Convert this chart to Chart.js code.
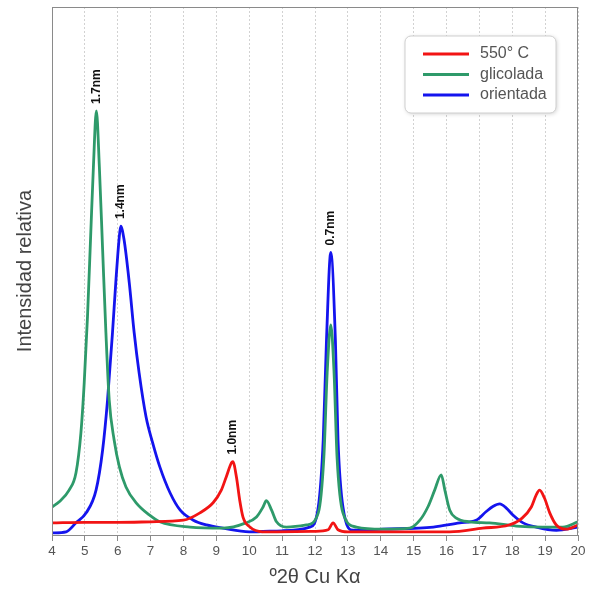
<!DOCTYPE html>
<html>
<head>
<meta charset="utf-8">
<script src="https://cdn.jsdelivr.net/npm/chart.js@4/dist/chart.umd.min.js"></script>
<style>
  html, body { margin: 0; padding: 0; background: #fff; }
  #wrap { width: 594px; height: 591px; position: relative; }
</style>
</head>
<body>
<div id="wrap"><canvas id="xrd"></canvas></div>
<script>
// x: º2θ, y: relative intensity (0 = baseline, 100 = top of plot)
const redX = [4.0, 5.0, 6.0, 7.0, 8.0, 8.5, 8.9, 9.15, 9.3, 9.46, 9.5, 9.61, 9.71, 9.81, 10.02, 10.4, 12.0, 12.4, 12.55, 12.7, 13.0, 16.1, 17.1, 17.9, 18.3, 18.58, 18.73, 18.83, 18.98, 19.14, 19.34, 19.64, 20.0];
const redY = [2.3, 2.4, 2.4, 2.5, 2.8, 4.2, 6.1, 8.5, 11, 13.7, 13.9, 11, 6.6, 3.4, 1.5, 0.6, 0.7, 1.0, 2.3, 1.0, 0.6, 0.6, 1.3, 1.9, 3.2, 5.3, 7.6, 8.5, 7.0, 4.2, 1.9, 1.1, 1.9];

const greenX = [4.0, 4.22, 4.52, 4.73, 4.88, 4.98, 5.08, 5.18, 5.26, 5.35, 5.44, 5.54, 5.64, 5.74, 5.89, 6.05, 6.25, 6.56, 6.96, 7.28, 8.2, 9.2, 9.9, 10.22, 10.42, 10.52, 10.68, 10.83, 11.13, 11.74, 12.1, 12.27, 12.37, 12.48, 12.58, 12.67, 12.85, 13.26, 14.06, 14.88, 15.19, 15.44, 15.64, 15.84, 15.95, 16.1, 16.3, 16.7, 17.31, 18.12, 18.93, 19.54, 20.0];
const greenY = [5.3, 6.3, 8.5, 11.8, 19.4, 28.8, 41.4, 57.3, 69.8, 80.3, 69.8, 54, 38.3, 25.6, 18, 12.9, 9.1, 6.1, 3.8, 2.5, 1.5, 1.3, 2.3, 3.4, 5.3, 6.5, 4.7, 2.5, 1.5, 1.9, 4.2, 14.8, 30.7, 39.8, 30.7, 14.8, 4.2, 1.5, 1.1, 1.3, 2.8, 5.4, 8.5, 11.4, 8.5, 4.7, 3.2, 2.5, 2.3, 1.7, 1.5, 1.5, 2.5];

const blueX = [4.0, 4.43, 4.73, 5.04, 5.34, 5.54, 5.69, 5.84, 5.94, 6.04, 6.09, 6.19, 6.35, 6.5, 6.65, 6.86, 7.06, 7.28, 7.59, 7.9, 8.3, 8.7, 9.2, 10.0, 11.0, 11.84, 12.1, 12.25, 12.35, 12.48, 12.62, 12.7, 12.85, 13.16, 14.06, 15.6, 16.4, 16.9, 17.2, 17.41, 17.62, 17.82, 18.02, 18.33, 18.73, 19.34, 20.0];
const blueY = [0.4, 0.6, 2.3, 4.2, 8.5, 16.1, 25.6, 38.3, 47.8, 56, 58.5, 56, 47.8, 38.3, 30.7, 22.4, 17.5, 12.9, 8, 4.7, 2.8, 1.9, 1.3, 0.6, 0.8, 1.5, 5.3, 18, 37, 53.5, 37, 18, 5.3, 0.9, 1.1, 1.5, 2.3, 2.8, 4.4, 5.4, 5.9, 5.1, 3.8, 2.3, 1.5, 0.9, 1.5];

const seriesNames = ["550° C", "glicolada", "orientada"];
const seriesColors = ["#f21414", "#2e9a6a", "#1414ee"];

const peakLabels = ["1.7nm", "1.4nm", "1.0nm", "0.7nm"];
const peakX = [5.35, 6.09, 9.5, 12.48];
const peakY = [80.3, 58.5, 13.9, 53.5];

const xTitle = "º2θ Cu Kα";
const yTitle = "Intensidad relativa";

const toPoints = (xs, ys) => xs.map((x, i) => ({ x: x, y: ys[i] }));

const FONT = "'Liberation Sans', Arial, sans-serif";

const boxPlugin = {
  id: "plotBox",
  afterDraw(chart) {
    const { ctx, chartArea: a } = chart;
    ctx.save();
    ctx.strokeStyle = "#8a8a8a";
    ctx.lineWidth = 1;
    ctx.strokeRect(a.left + 0.5, a.top + 0.5, a.right - a.left - 1, a.bottom - a.top);
    ctx.restore();
  }
};

const peakPlugin = {
  id: "peakLabels",
  afterDatasetsDraw(chart) {
    const { ctx, scales } = chart;
    ctx.save();
    ctx.font = "bold 12px " + FONT;
    ctx.fillStyle = "#111";
    ctx.textAlign = "left";
    ctx.textBaseline = "middle";
    peakLabels.forEach((txt, i) => {
      const px = scales.x.getPixelForValue(peakX[i]);
      const py = scales.y.getPixelForValue(peakY[i]);
      ctx.save();
      ctx.translate(px, py - 7);
      ctx.rotate(-Math.PI / 2);
      ctx.fillText(txt, 0, 0);
      ctx.restore();
    });
    ctx.restore();
  }
};

const legendPlugin = {
  id: "boxLegend",
  afterDraw(chart) {
    const ctx = chart.ctx;
    const x = 405, y = 36, w = 151, h = 77;
    ctx.save();
    ctx.shadowColor = "rgba(0,0,0,0.18)";
    ctx.shadowBlur = 4;
    ctx.shadowOffsetX = 1;
    ctx.shadowOffsetY = 1;
    ctx.beginPath();
    ctx.roundRect(x, y, w, h, 6);
    ctx.fillStyle = "#fff";
    ctx.fill();
    ctx.shadowColor = "transparent";
    ctx.strokeStyle = "#cfcfcf";
    ctx.lineWidth = 1;
    ctx.stroke();
    ctx.font = "16px " + FONT;
    ctx.textBaseline = "middle";
    ctx.textAlign = "left";
    seriesNames.forEach((name, i) => {
      const ly = 54 + i * 20.5;
      ctx.strokeStyle = seriesColors[i];
      ctx.lineWidth = 3;
      ctx.beginPath();
      ctx.moveTo(423, ly);
      ctx.lineTo(469, ly);
      ctx.stroke();
      ctx.fillStyle = "#555";
      ctx.fillText(name, 480, ly);
    });
    ctx.restore();
  }
};

const seriesData = [toPoints(redX, redY), toPoints(greenX, greenY), toPoints(blueX, blueY)];

new Chart(document.getElementById("xrd"), {
  type: "line",
  data: {
    datasets: seriesNames.map((name, i) => ({
      label: name,
      data: seriesData[i],
      borderColor: seriesColors[i],
      backgroundColor: seriesColors[i],
      borderWidth: 2.8,
      pointRadius: 0,
      cubicInterpolationMode: "monotone",
      fill: false,
      order: i
    }))
  },
  options: {
    responsive: true,
    maintainAspectRatio: false,
    animation: false,
    layout: { padding: { top: 7, right: 16, left: 0, bottom: 0 } },
    plugins: { legend: { display: false }, tooltip: { enabled: false } },
    scales: {
      x: {
        type: "linear",
        min: 4,
        max: 20,
        afterFit: (s) => { s.height = 56; },
        ticks: { stepSize: 1, color: "#555", font: { family: FONT, size: 13.5 }, padding: 2 },
        grid: { color: "#d2d2d2", lineWidth: 1, tickLength: 6, tickColor: "#8a8a8a", tickBorderDash: [], drawTicks: true },
        border: { display: true, color: "#8a8a8a", width: 1, dash: [2, 2] },
        title: { display: true, text: xTitle, color: "#444", font: { family: FONT, size: 20 }, padding: { top: 0, bottom: 2 } }
      },
      y: {
        min: 0,
        max: 100,
        afterFit: (s) => { s.width = 52; },
        ticks: { display: false },
        grid: { display: false, drawTicks: false },
        border: { display: true, color: "#8a8a8a", width: 1 },
        title: { display: true, text: yTitle, color: "#444", font: { family: FONT, size: 20 }, padding: { top: 13, bottom: 0 } }
      }
    }
  },
  plugins: [boxPlugin, peakPlugin, legendPlugin]
});
</script>
</body>
</html>
